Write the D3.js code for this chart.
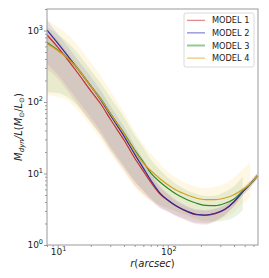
<!DOCTYPE html>
<html>
<head>
<meta charset="utf-8">
<script src="https://cdn.jsdelivr.net/npm/d3@7"></script>
<style>
  body { margin: 0; background: white; }
  text { font-family: "DejaVu Sans", sans-serif; }
</style>
</head>
<body>
<script>
// radius (arcsec) sampled along the profiles
let radius = [8, 10, 12, 15, 20, 25, 30, 40, 50, 60, 70, 85, 100, 120, 150, 180, 220, 270, 330, 400, 480, 560, 650];

// M_dyn/L for each model
let model1 = [865, 588, 412, 263, 143, 90.8, 57.8, 29.4, 16.5, 10.8, 7.6, 5.17, 4.22, 3.48, 2.93, 2.66, 2.6, 2.75, 3.14, 4.02, 5.55, 7.06, 9.23];
let model2 = [1016, 668, 469, 299, 167, 103, 65.8, 33.4, 18.7, 11.9, 8.11, 5.33, 4.26, 3.51, 2.96, 2.69, 2.63, 2.78, 3.16, 4.03, 5.56, 7.06, 9.23];
let model3 = [679, 534, 426, 299, 167, 107, 70, 36.8, 21.3, 14.5, 10.2, 7.6, 6.21, 5.12, 4.3, 3.87, 3.59, 3.55, 3.83, 4.4, 5.69, 7.13, 9.23];
let model4 = [658, 525, 426, 299, 167, 105, 69, 36, 20.5, 14.0, 11.0, 8.46, 6.97, 5.82, 5.0, 4.54, 4.3, 4.3, 4.54, 5.05, 6.01, 7.13, 9.23];

// band half widths in dex (upper / lower)
let model1Hi = [0.10, 0.10, 0.10, 0.10, 0.10, 0.10, 0.10, 0.10, 0.10, 0.10, 0.10, 0.09, 0.08, 0.07, 0.06, 0.06, 0.06, 0.06, 0.06, 0.05, 0.05, 0.05, 0.05];
let model1Lo = [0.48, 0.44, 0.44, 0.44, 0.44, 0.44, 0.44, 0.42, 0.38, 0.32, 0.26, 0.20, 0.16, 0.14, 0.13, 0.13, 0.13, 0.11, 0.08, 0.06, 0.05, 0.05, 0.05];
let model2Hi = [0.14, 0.13, 0.13, 0.13, 0.13, 0.13, 0.13, 0.13, 0.12, 0.12, 0.11, 0.10, 0.09, 0.08, 0.07, 0.07, 0.07, 0.07, 0.06, 0.05, 0.05, 0.04, 0.04];
let model2Lo = [0.47, 0.44, 0.44, 0.44, 0.44, 0.44, 0.44, 0.42, 0.38, 0.32, 0.26, 0.20, 0.16, 0.14, 0.12, 0.12, 0.12, 0.10, 0.08, 0.06, 0.05, 0.04, 0.04];
let model3Hi = [0.22, 0.22, 0.22, 0.22, 0.22, 0.22, 0.22, 0.22, 0.21, 0.20, 0.19, 0.17, 0.15, 0.14, 0.13, 0.13, 0.13, 0.14, 0.16, 0.18, 0.20];
let model3Lo = [0.70, 0.60, 0.55, 0.52, 0.50, 0.50, 0.50, 0.48, 0.44, 0.40, 0.36, 0.32, 0.28, 0.24, 0.22, 0.22, 0.22, 0.22, 0.24, 0.26, 0.27];
let model4Hi = [0.33, 0.33, 0.33, 0.33, 0.33, 0.33, 0.32, 0.30, 0.28, 0.26, 0.24, 0.21, 0.18, 0.17, 0.16, 0.16, 0.16, 0.18, 0.20, 0.24, 0.28, 0.30];
let model4Lo = [0.72, 0.65, 0.60, 0.58, 0.56, 0.56, 0.56, 0.54, 0.50, 0.46, 0.42, 0.38, 0.35, 0.34, 0.33, 0.33, 0.33, 0.30, 0.27, 0.24, 0.20, 0.19];

let names = ["MODEL 1", "MODEL 2", "MODEL 3", "MODEL 4"];
let xTicks = [10, 100];
let yTicks = [1, 10, 100, 1000];

let models = [
  { name: names[0], vals: model1, hi: model1Hi, lo: model1Lo, line: "#c62f2f", fill: "#d88a8a", op: 0.2, key: "#e06c6c", kw: 1 },
  { name: names[1], vals: model2, hi: model2Hi, lo: model2Lo, line: "#2e2a9a", fill: "#8c88cc", op: 0.2, key: "#6b68c8", kw: 1 },
  { name: names[2], vals: model3, hi: model3Hi, lo: model3Lo, line: "#2a8a2a", fill: "#80b460", op: 0.17, key: "#98c898", kw: 2 },
  { name: names[3], vals: model4, hi: model4Hi, lo: model4Lo, line: "#d4a020", fill: "#f0cc58", op: 0.16, key: "#e8b850", kw: 1 }
];

let svg = d3.select("body")
  .append("svg")
  .attr("width", 269)
  .attr("height", 278);

let mLeft = 47, mRight = 258, mTop = 9, mBottom = 245;

let x = d3.scaleLog().domain([8, 660]).range([mLeft, mRight]);
let y = d3.scaleLog().domain([1, 2000]).range([mBottom, mTop]);

svg.append("clipPath").attr("id", "clip")
  .append("rect")
  .attr("x", mLeft).attr("y", mTop)
  .attr("width", mRight - mLeft).attr("height", mBottom - mTop);

let plot = svg.append("g").attr("clip-path", "url(#clip)");

// bands, widest first
let area = d3.area()
  .x((d) => x(d.r))
  .y0((d) => y(d.lo))
  .y1((d) => y(d.hi))
  .curve(d3.curveMonotoneX);

[3, 2, 1, 0].forEach((i) => {
  let m = models[i];
  let pts = m.hi.map((h, j) => ({
    r: radius[j],
    hi: m.vals[j] * Math.pow(10, h),
    lo: m.vals[j] / Math.pow(10, m.lo[j])
  }));
  plot.append("path")
    .attr("d", area(pts))
    .style("fill", m.fill)
    .style("fill-opacity", m.op)
    .style("stroke", "none");
});

// model lines
let line = d3.line()
  .x((d, j) => x(radius[j]))
  .y((d) => y(d))
  .curve(d3.curveMonotoneX);

models.forEach((m) => {
  plot.append("path")
    .attr("d", line(m.vals))
    .style("fill", "none")
    .style("stroke", m.line)
    .style("stroke-width", 1.2);
});

// frame
svg.append("rect")
  .attr("x", mLeft).attr("y", mTop)
  .attr("width", mRight - mLeft).attr("height", mBottom - mTop)
  .style("fill", "none")
  .style("stroke", "#9a9a9a")
  .style("stroke-width", 1);

// axes: major and minor ticks
let xMinor = x.ticks().filter((t) => xTicks.indexOf(t) < 0);
let yMinor = y.ticks().filter((t) => yTicks.indexOf(t) < 0);

function tickGroup(axis, transform) {
  svg.append("g")
    .attr("transform", transform)
    .call(axis)
    .call((g) => g.select(".domain").remove())
    .call((g) => g.selectAll("line").style("stroke", "#9a9a9a"));
}
tickGroup(d3.axisBottom(x).tickValues(xTicks).tickSize(3).tickFormat(""), `translate(0,${mBottom})`);
tickGroup(d3.axisBottom(x).tickValues(xMinor).tickSize(2).tickFormat(""), `translate(0,${mBottom})`);
tickGroup(d3.axisLeft(y).tickValues(yTicks).tickSize(3).tickFormat(""), `translate(${mLeft},0)`);
tickGroup(d3.axisLeft(y).tickValues(yMinor).tickSize(2).tickFormat(""), `translate(${mLeft},0)`);

// tick labels as 10^n
function powLabel(sel, t) {
  sel.append("tspan").text("10");
  sel.append("tspan")
    .text(String(Math.round(Math.log10(t))))
    .attr("dy", -4)
    .style("font-size", "6.5px");
}

xTicks.forEach((t) => {
  let tx = svg.append("text")
    .attr("x", x(t) + 1)
    .attr("y", mBottom + 9.5)
    .attr("text-anchor", "middle")
    .style("font-size", "9px")
    .style("fill", "#222");
  powLabel(tx, t);
});

yTicks.forEach((t) => {
  let ty = svg.append("text")
    .attr("x", mLeft - 4)
    .attr("y", y(t) + 3)
    .attr("text-anchor", "end")
    .style("font-size", "9px")
    .style("fill", "#222");
  powLabel(ty, t);
});

// axis titles
svg.append("text")
  .attr("x", (mLeft + mRight) / 2)
  .attr("y", 267)
  .attr("text-anchor", "middle")
  .style("font-size", "10px")
  .style("fill", "#222")
  .html('<tspan font-style="italic">r</tspan>(<tspan font-style="italic">arcsec</tspan>)');

svg.append("text")
  .attr("transform", `translate(22,${(mTop + mBottom) / 2}) rotate(-90)`)
  .attr("text-anchor", "middle")
  .style("font-size", "10px")
  .style("fill", "#222")
  .html('<tspan font-style="italic">M</tspan><tspan font-style="italic" font-size="7px" dy="2">dyn</tspan>' +
    '<tspan dy="-2" font-style="italic">/L</tspan>(<tspan font-style="italic">M</tspan><tspan font-size="7px" dy="2">\u2299</tspan>' +
    '<tspan dy="-2">/</tspan><tspan font-style="italic">L</tspan><tspan font-size="7px" dy="2">\u2299</tspan><tspan dy="-2">)</tspan>');

// legend
let legend = svg.append("g").attr("transform", "translate(184,13)");
legend.append("rect")
  .attr("width", 70).attr("height", 54)
  .attr("rx", 2)
  .style("fill", "white")
  .style("fill-opacity", 0.85)
  .style("stroke", "#d0d0d0")
  .style("stroke-width", 0.8);

models.forEach((m, i) => {
  let ly = 7.3 + i * 12.6;
  legend.append("line")
    .attr("x1", 3).attr("x2", 21)
    .attr("y1", ly).attr("y2", ly)
    .style("stroke", m.key)
    .style("stroke-width", m.kw);
  legend.append("text")
    .attr("x", 28)
    .attr("y", ly + 3)
    .style("font-size", "8.2px")
    .style("fill", "#222")
    .text(m.name);
});
</script>
</body>
</html>
